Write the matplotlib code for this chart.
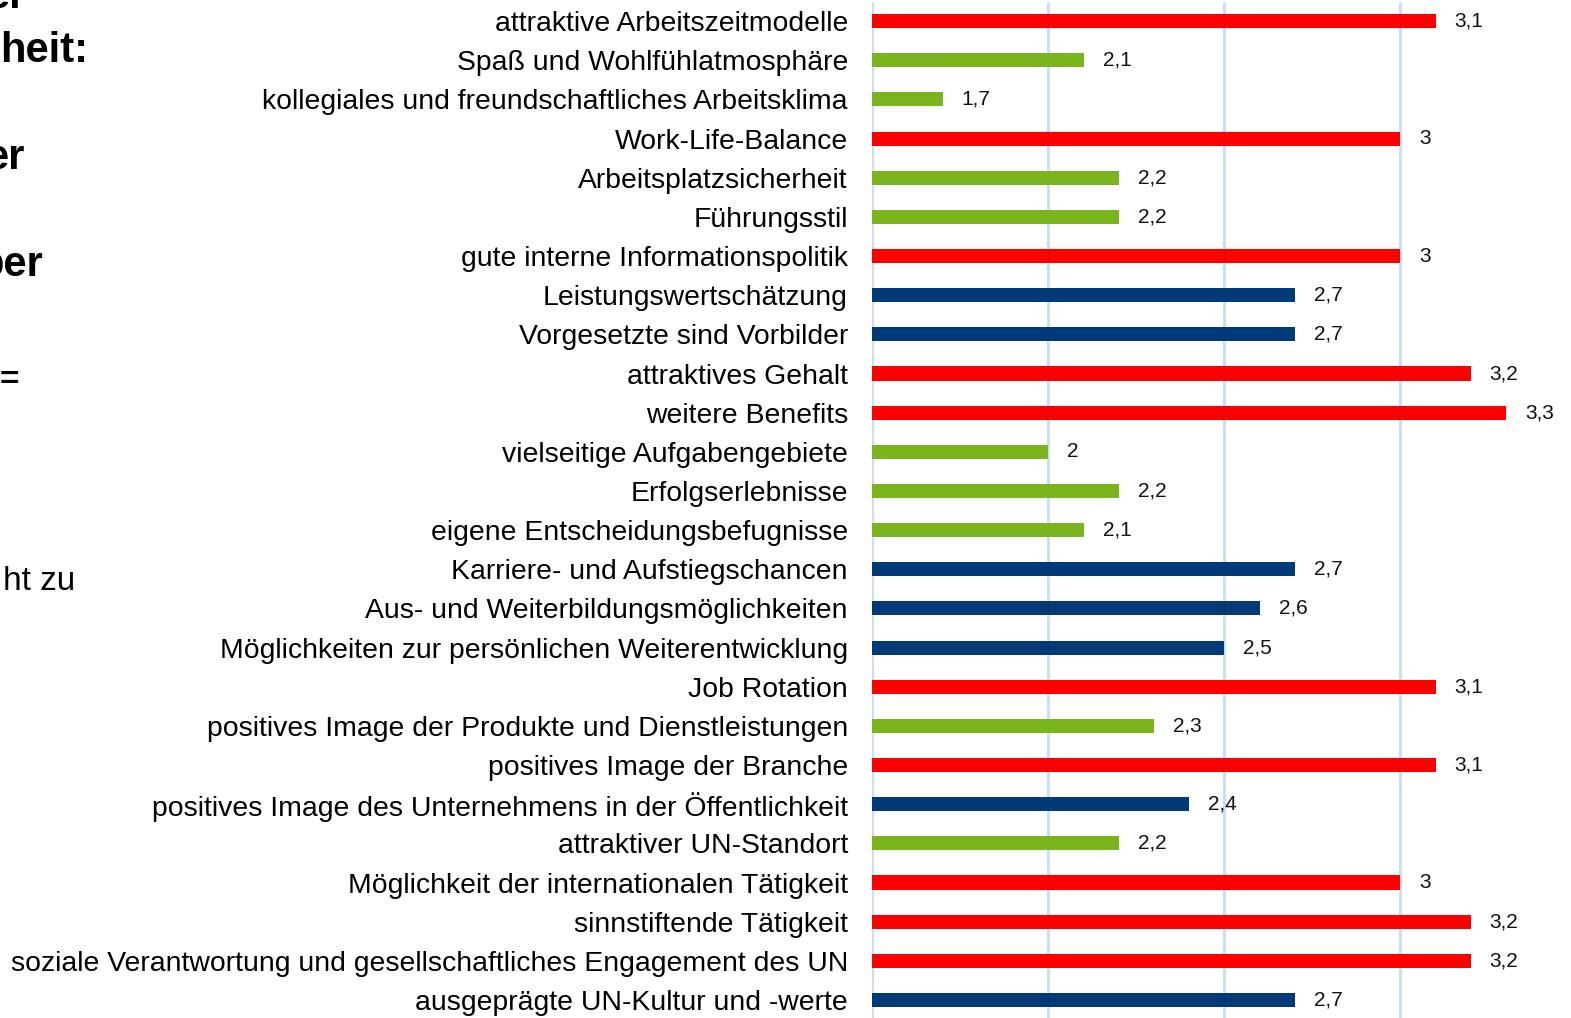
import matplotlib.pyplot as plt

plt.rcParams['font.family'] = ['Liberation Sans', 'DejaVu Sans']

# Kategorien von oben nach unten
kategorien = [
    "attraktive Arbeitszeitmodelle",
    "Spaß und Wohlfühlatmosphäre",
    "kollegiales und freundschaftliches Arbeitsklima",
    "Work-Life-Balance",
    "Arbeitsplatzsicherheit",
    "Führungsstil",
    "gute interne Informationspolitik",
    "Leistungswertschätzung",
    "Vorgesetzte sind Vorbilder",
    "attraktives Gehalt",
    "weitere Benefits",
    "vielseitige Aufgabengebiete",
    "Erfolgserlebnisse",
    "eigene Entscheidungsbefugnisse",
    "Karriere- und Aufstiegschancen",
    "Aus- und Weiterbildungsmöglichkeiten",
    "Möglichkeiten zur persönlichen Weiterentwicklung",
    "Job Rotation",
    "positives Image der Produkte und Dienstleistungen",
    "positives Image der Branche",
    "positives Image des Unternehmens in der Öffentlichkeit",
    "attraktiver UN-Standort",
    "Möglichkeit der internationalen Tätigkeit",
    "sinnstiftende Tätigkeit",
    "soziale Verantwortung und gesellschaftliches Engagement des UN",
    "ausgeprägte UN-Kultur und -werte",
]
werte = [3.1, 2.1, 1.7, 3.0, 2.2, 2.2, 3.0, 2.7, 2.7, 3.2, 3.3, 2.0, 2.2, 2.1,
         2.7, 2.6, 2.5, 3.1, 2.3, 3.1, 2.4, 2.2, 3.0, 3.2, 3.2, 2.7]

# Textfragmente am linken Rand (abgeschnittene Folie)
fragmente = ["er-", "heit:", "er", "ber", "=", "ht zu"]

ROT, BLAU, GRUEN = "#FF0000", "#003A78", "#7AB51E"


def farbe(v):
    if v >= 3.0:
        return ROT
    if v >= 2.4:
        return BLAU
    return GRUEN


W, H = 1571, 1018
fig = plt.figure(figsize=(W / 100, H / 100), dpi=100)

x0 = 872.3
px_per_unit = 352.0
ax = fig.add_axes([x0 / W, 0, 1 - x0 / W, 1])
ax.set_xlim(1.5, 1.5 + (W - x0) / px_per_unit)
n = len(kategorien)
ax.set_ylim(n - 0.54, -0.54)

for gx in [1.5, 2.0, 2.5, 3.0, 3.5]:
    ax.plot([gx, gx], [n - 0.54, -0.49], color="#C9DFF7", lw=2.2, zorder=0,
            solid_capstyle="butt")

ys = list(range(n))
ax.barh(ys, werte, height=0.36, color=[farbe(v) for v in werte], zorder=2)

for y, v in zip(ys, werte):
    ax.text(v + 19 / px_per_unit, y, f"{v:g}".replace(".", ","), va="center",
            ha="left", fontsize=15, color="#111111", zorder=3)

ax.set_yticks(ys)
ax.set_yticklabels(kategorien, fontsize=20.4)
ax.tick_params(axis="y", length=0, pad=17.5)
ax.set_xticks([])
for s in ax.spines.values():
    s.set_visible(False)


def px(x, y):
    return x / W, 1 - y / H


# (Grundlinie, fett, Größe)
lage = [(8, True, 30), (62, True, 30), (169, True, 30), (276, True, 30),
        (389, True, 24), (590, False, 24)]
rechts = [40, 88, 25, 43, 19, 75]
for t, r, (b, fett, g) in zip(fragmente, rechts, lage):
    fig.text(*px(r, b), t, ha="right", va="baseline", fontsize=g,
             fontweight="bold" if fett else "normal", color="black")

fig.savefig("out.png", dpi=100)
